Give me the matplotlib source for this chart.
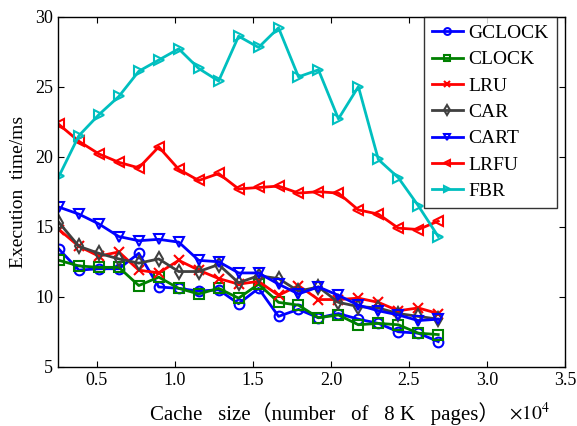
import numpy as np
import matplotlib
matplotlib.use('Agg')
import matplotlib.pyplot as plt
from matplotlib.ticker import FuncFormatter

plt.rcParams['font.family'] = ['Liberation Serif', 'Noto Sans CJK SC']
plt.rcParams['mathtext.fontset'] = 'stix'

# cache sizes (pages)
cache_size = [1280 * k for k in range(2, 22)]

gclock = [13.4, 11.9, 12.0, 12.0, 13.1, 10.7, 10.6, 10.4, 10.5, 9.5,
          10.6, 8.6, 9.1, 8.5, 8.8, 8.4, 8.1, 7.5, 7.4, 6.8]
clock = [12.6, 12.2, 12.1, 12.1, 10.8, 11.4, 10.6, 10.2, 10.6, 9.9,
         10.9, 9.6, 9.4, 8.5, 8.7, 8.0, 8.1, 8.0, 7.4, 7.3]
lru = [14.8, 13.6, 12.9, 13.2, 11.9, 11.7, 12.6, 11.9, 11.3, 10.9,
       11.1, 10.1, 10.8, 9.8, 9.8, 9.9, 9.6, 9.0, 9.2, 8.8]
car = [15.3, 13.6, 13.1, 12.7, 12.4, 12.7, 11.8, 11.8, 12.3, 11.0,
       11.5, 11.3, 10.4, 10.7, 9.6, 9.3, 9.2, 8.8, 8.6, 8.4]
cart = [16.4, 15.9, 15.2, 14.3, 14.0, 14.1, 13.9, 12.6, 12.5, 11.7,
        11.7, 10.9, 10.2, 10.7, 10.1, 9.4, 9.0, 8.7, 8.3, 8.4]
lrfu = [22.3, 21.1, 20.2, 19.6, 19.2, 20.7, 19.1, 18.3, 18.8, 17.7,
        17.8, 17.9, 17.4, 17.5, 17.4, 16.2, 15.9, 14.9, 14.8, 15.4]
fbr = [18.6, 21.5, 23.0, 24.3, 26.1, 26.9, 27.7, 26.3, 25.4, 28.6,
       27.8, 29.2, 25.7, 26.2, 22.7, 25.0, 19.8, 18.5, 16.5, 14.3]

series = [
    ('GCLOCK', gclock, '#0000ff', 'o'),
    ('CLOCK', clock, '#008000', 's'),
    ('LRU', lru, '#ff0000', 'x'),
    ('CAR', car, '#404040', 'd'),
    ('CART', cart, '#0000ff', 'v'),
    ('LRFU', lrfu, '#ff0000', '<'),
    ('FBR', fbr, '#00bfbf', '>'),
]

fig = plt.figure(figsize=(5.77, 4.26), dpi=100)
ax = fig.add_axes([0.1005, 0.139, 0.8785, 0.822])

for name, vals, col, mk in series:
    ax.plot(cache_size, vals, color=col, marker=mk, markersize=7,
            markerfacecolor='none', markeredgewidth=1.5, linewidth=2,
            label=name)

ax.set_xlim(2500, 35000)
ax.set_ylim(5, 30)
ax.set_xticks([5000, 10000, 15000, 20000, 25000, 30000, 35000])
ax.set_yticks([5, 10, 15, 20, 25, 30])
ax.xaxis.set_major_formatter(FuncFormatter(lambda v, p: '%.1f' % (v / 1e4)))
ax.tick_params(direction='in', top=True, right=True, labelsize=13,
               length=4, width=0.8)
for s in ax.spines.values():
    s.set_linewidth(1.0)

ax.set_ylabel('Execution  time/ms', fontsize=14, labelpad=6)
fig.text(150 / 577, 1 - 420 / 426,
         'Cache   size（number   of   8 K   pages）',
         fontsize=15, ha='left', va='baseline')
fig.text(509 / 577, 1 - 420 / 426, r'$\times 10^{4}$',
         fontsize=14, ha='left', va='baseline')

leg = ax.legend(loc='upper right', bbox_to_anchor=(0.984, 1.0),
                fontsize=14, frameon=True, fancybox=False, edgecolor='black',
                borderaxespad=0, handlelength=1.6, labelspacing=0.45,
                handletextpad=0.3, borderpad=0.4, markerscale=0.7)
leg.get_frame().set_linewidth(1.0)

fig.savefig('out.png', dpi=100)
